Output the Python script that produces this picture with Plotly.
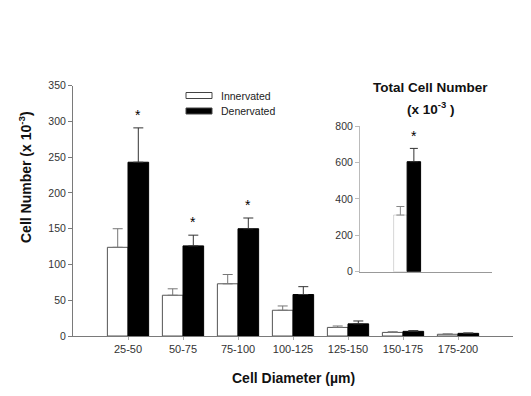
import plotly.graph_objects as go

# ---- data ----
categories = ["25-50", "50-75", "75-100", "100-125", "125-150", "150-175", "175-200"]
innervated = [124, 57, 73, 36, 12, 5, 2.4]
innervated_err = [26, 9, 13, 6, 2, 1, 0.5]
denervated = [243, 126, 150, 58, 17, 6.5, 3.7]
denervated_err = [48, 15, 15, 11, 4, 1, 0.5]
significant = [True, True, True, False, False, False, False]

total_labels = ["Total"]
total_innervated = [311]
total_innervated_err = [47]
total_denervated = [604]
total_denervated_err = [73]
total_significant = [True]

series_names = ["Innervated", "Denervated"]
y_ticks_main = [0, 50, 100, 150, 200, 250, 300, 350]
y_ticks_inset = [0, 200, 400, 600, 800]

FONT = "Arial, Liberation Sans, sans-serif"
W, H = 531, 396
OFF = 8  # page body margin
AX = "#7a7a7a"

def px_x(p):
    return (p - OFF) / W

def px_y(p):
    return 1 - (p - OFF) / H

fig = go.Figure()

# main chart bars
fig.add_trace(go.Bar(
    x=categories, y=innervated, name=series_names[0],
    marker=dict(color="white", line=dict(color="#555", width=1)),
    error_y=dict(type="data", array=innervated_err, arrayminus=[0] * len(innervated),
                 color="#777", thickness=1, width=5),
    xaxis="x", yaxis="y", showlegend=False,
))
fig.add_trace(go.Bar(
    x=categories, y=denervated, name=series_names[1],
    marker=dict(color="black", line=dict(color="black", width=1)),
    error_y=dict(type="data", array=denervated_err, arrayminus=[0] * len(denervated),
                 color="#333", thickness=1, width=5),
    xaxis="x", yaxis="y", showlegend=False,
))

# inset bars
fig.add_trace(go.Bar(
    x=[0], y=total_innervated, name=series_names[0],
    marker=dict(color="white", line=dict(color="#bbb", width=0.6)),
    error_y=dict(type="data", array=total_innervated_err, arrayminus=[0],
                 color="#888", thickness=1, width=4),
    xaxis="x2", yaxis="y2", showlegend=False,
))
fig.add_trace(go.Bar(
    x=[0], y=total_denervated, name=series_names[1],
    marker=dict(color="black", line=dict(color="black", width=1)),
    error_y=dict(type="data", array=total_denervated_err, arrayminus=[0],
                 color="#333", thickness=1, width=4),
    xaxis="x2", yaxis="y2", showlegend=False,
))

annotations = []
# stars
for c, v, e, s in zip(categories, denervated, denervated_err, significant):
    if s:
        annotations.append(dict(x=c, y=v + e, xref="x", yref="y", text="*",
                                showarrow=False, xshift=10, yshift=13,
                                xanchor="center", yanchor="middle",
                                font=dict(family=FONT, size=14, color="black")))
for v, e, s in zip(total_denervated, total_denervated_err, total_significant):
    if s:
        annotations.append(dict(x=0, y=v + e, xref="x2", yref="y2", text="*",
                                showarrow=False, xshift=7, yshift=12,
                                xanchor="center", yanchor="middle",
                                font=dict(family=FONT, size=14, color="black")))

# legend (manual)
shapes = []
leg_rows = [(px_y(95.5), "white"), (px_y(111), "black")]
for (yc, col), name in zip(leg_rows, series_names):
    shapes.append(dict(type="rect", xref="paper", yref="paper",
                       x0=px_x(186), x1=px_x(212), y0=yc - 3 / H, y1=yc + 3 / H,
                       fillcolor=col, line=dict(color="#444", width=1)))
    annotations.append(dict(x=px_x(219), y=yc, xref="paper", yref="paper", text=name,
                            showarrow=False, xanchor="left", yanchor="middle",
                            font=dict(family=FONT, size=10.5, color="#222")))

# axis titles
annotations.append(dict(x=px_x(25), y=px_y(177), xref="paper", yref="paper",
                        text="<b>Cell Number (x 10<sup>-3</sup>)</b>", textangle=-90,
                        xanchor="center", yanchor="middle",
                        showarrow=False, font=dict(family=FONT, size=14, color="#111")))
annotations.append(dict(x=px_x(293), y=px_y(378), xref="paper", yref="paper",
                        text="<b>Cell Diameter (µm)</b>", showarrow=False,
                        xanchor="center", yanchor="middle",
                        font=dict(family=FONT, size=14, color="#111")))

# inset title
annotations.append(dict(x=px_x(430), y=px_y(87.5), xref="paper", yref="paper",
                        text="<b>Total Cell Number</b>", showarrow=False,
                        xanchor="center", yanchor="middle",
                        font=dict(family=FONT, size=13.5, color="#111")))
annotations.append(dict(x=px_x(430), y=px_y(108), xref="paper", yref="paper",
                        text="<b>(x 10<sup>-3</sup> )</b>", showarrow=False,
                        xanchor="center", yanchor="middle",
                        font=dict(family=FONT, size=13.5, color="#111")))

fig.update_layout(
    width=W, height=H,
    margin=dict(l=0, r=0, t=0, b=0),
    paper_bgcolor="white", plot_bgcolor="white",
    barmode="group", bargap=0.25, bargroupgap=0,
    font=dict(family=FONT, color="#333"),
    xaxis=dict(domain=[px_x(73), px_x(513)], range=[-1, 7], type="category",
               automargin=False,
               showline=True, linecolor=AX, linewidth=1,
               ticks="outside", ticklen=3, tickcolor="#aaa",
               showgrid=False, zeroline=False,
               tickfont=dict(size=11, color="#333")),
    yaxis=dict(domain=[px_y(336), px_y(85.7)], range=[0, 350],
               automargin=False,
               tickvals=y_ticks_main, showline=True, linecolor=AX, linewidth=1,
               ticks="outside", ticklen=4, tickcolor=AX, showgrid=False, zeroline=False,
               tickfont=dict(size=10.5, color="#333")),
    xaxis2=dict(domain=[px_x(360), px_x(492)], range=[-1.31, 2.36],
                automargin=False,
                anchor="y2", showline=True, linecolor="#999", linewidth=1,
                showticklabels=False, ticks="", showgrid=False, zeroline=False),
    yaxis2=dict(domain=[px_y(271.7), px_y(126)], range=[0, 800], anchor="x2",
                automargin=False,
                tickvals=y_ticks_inset, showline=True, linecolor="#bbb", linewidth=1,
                ticks="outside", ticklen=4, tickcolor="#bbb", showgrid=False, zeroline=False,
                tickfont=dict(size=10.5, color="#333")),
    shapes=shapes,
    annotations=annotations,
)

fig.write_html("out.html")
